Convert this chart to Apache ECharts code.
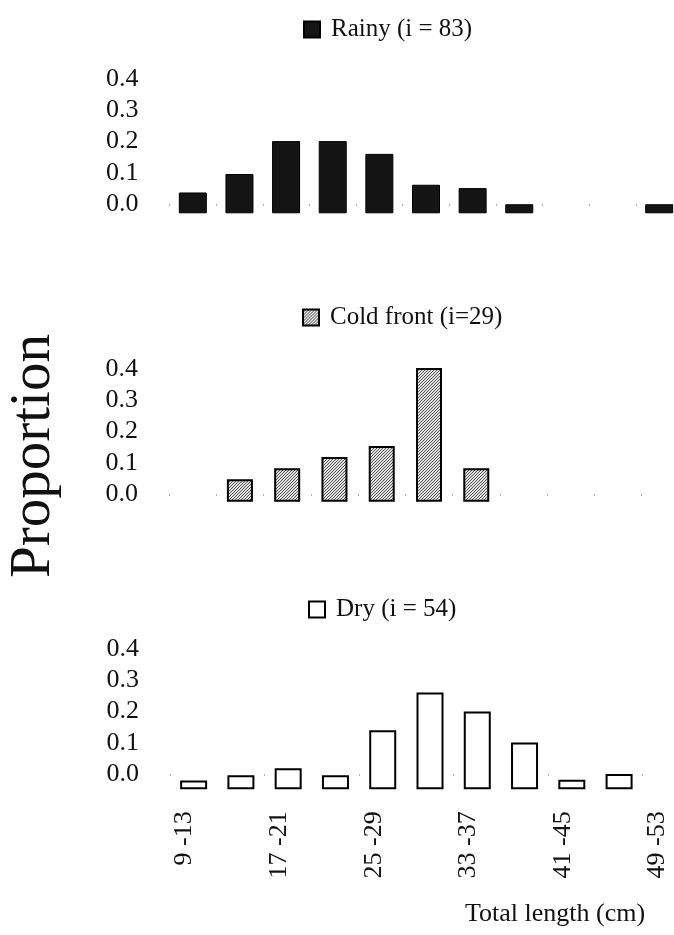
<!DOCTYPE html>
<html>
<head>
<meta charset="utf-8">
<script src="https://cdn.jsdelivr.net/npm/echarts@6/dist/echarts.min.js"></script>
<style>
  html, body { margin: 0; padding: 0; background: #fff; overflow: hidden; width: 674px; height: 935px; }
  /* the plot runs past the right edge in the original, so the canvas is wider than the window */
  #main { width: 700px; height: 935px; }
</style>
</head>
<body>
<div id="main"></div>
<script>
// length classes (cm)
const categories = ['9 -13', '13 -17', '17 -21', '21 -25', '25 -29', '29 -33',
                    '33 -37', '37 -41', '41 -45', '45 -49', '49 -53'];
const tickLabels = [0, 0.1, 0.2, 0.3, 0.4];

const rainy     = [0.062, 0.117, 0.215, 0.215, 0.177, 0.085, 0.075, 0.027, null, null, 0.027];
const coldFront = [null, 0.069, 0.103, 0.138, 0.172, 0.414, 0.103, null, null, null, null];
const dry       = [0.024, 0.039, 0.058, 0.039, 0.163, 0.267, 0.214, 0.129, 0.026, 0.042, null];

const seriesNames = ['Rainy (i = 83)', 'Cold front (i=29)', 'Dry (i = 54)'];

const FONT = 'Liberation Serif';

// hatched fill for the cold front bars
function hatch() {
  const c = document.createElement('canvas');
  c.width = c.height = 3;
  const g = c.getContext('2d');
  g.fillStyle = '#e2e2e2';
  g.fillRect(0, 0, 3, 3);
  g.fillStyle = '#555';
  for (let i = 0; i < 3; i++) g.fillRect(i, 2 - i, 1, 1);
  return c;
}

// panel layout: grid box, bar scale max, and label axis min (labels sit a bit above the baseline)
const panels = [
  { left: 169.5, width: 513, top: 79,  height: 134.3, barMax: 0.4,   labelMin: -0.0298, barWidth: 28,
    legend: { left: 303, top: 17 } },
  { left: 169,   width: 520, top: 369, height: 132.7, barMax: 0.41,  labelMin: -0.0246, barWidth: 26,
    legend: { left: 302, top: 305 } },
  { left: 170,   width: 520, top: 649, height: 140.3, barMax: 0.3865, labelMin: -0.049, barWidth: 27,
    legend: { left: 308, top: 597 } }
];

const styles = [
  { color: '#141414', borderColor: '#000', borderWidth: 1 },
  { color: { image: hatch(), repeat: 'repeat' }, borderColor: '#000', borderWidth: 2 },
  { color: '#fff', borderColor: '#000', borderWidth: 2 }
];

const values = [rainy, coldFront, dry];

let grid = [], xAxis = [], yAxis = [], series = [], legend = [];

panels.forEach(function (p, i) {
  grid.push({ left: p.left, width: p.width, top: p.top, height: p.height });

  const last = i === panels.length - 1;
  xAxis.push({
    type: 'category',
    gridIndex: i,
    data: categories,
    axisLine: { show: false },
    axisTick: { show: true, length: 2, lineStyle: { color: '#b0b0b0', width: 1 } },
    axisLabel: last ? {
      show: true, interval: 1, rotate: 90, margin: 22,
      fontFamily: FONT, fontSize: 26, color: '#111',
      verticalAlign: 'bottom', lineHeight: 18
    } : { show: false }
  });

  // label axis (only tick labels)
  yAxis.push({
    type: 'value',
    gridIndex: i,
    min: p.labelMin,
    max: 0.4,
    axisLine: { show: false },
    axisTick: { show: false },
    splitLine: { show: false },
    axisLabel: {
      customValues: tickLabels,
      margin: 31,
      fontFamily: FONT, fontSize: 26, color: '#111',
      formatter: function (v) { return v.toFixed(1); }
    }
  });
  // bar axis (hidden)
  yAxis.push({
    type: 'value',
    gridIndex: i,
    min: 0,
    max: p.barMax,
    show: false,
    splitLine: { show: false }
  });

  series.push({
    name: seriesNames[i],
    type: 'bar',
    xAxisIndex: i,
    yAxisIndex: i * 2 + 1,
    barWidth: p.barWidth,
    data: values[i],
    itemStyle: styles[i],
    silent: true
  });

  legend.push({
    data: [seriesNames[i]],
    left: p.legend.left,
    top: p.legend.top,
    icon: 'rect',
    itemWidth: 16,
    itemHeight: 16,
    padding: 0,
    selectedMode: false,
    textStyle: { fontFamily: FONT, fontSize: 25, color: '#111', padding: [0, 0, 0, 6] }
  });
});

let option = {
  animation: false,
  backgroundColor: '#fff',
  title: {
    text: 'Total length (cm)',
    left: 460,
    top: 896,
    textStyle: { fontFamily: FONT, fontSize: 26, fontWeight: 'normal', color: '#111' }
  },
  graphic: [{
    type: 'text',
    x: 34,
    y: 456,
    rotation: Math.PI / 2,
    style: {
      text: 'Proportion',
      font: '57px "Liberation Serif"',
      fill: '#111',
      align: 'center',
      verticalAlign: 'middle'
    }
  }],
  legend: legend,
  grid: grid,
  xAxis: xAxis,
  yAxis: yAxis,
  series: series
};

let myChart = echarts.init(document.getElementById('main'));
myChart.setOption(option);
</script>
</body>
</html>
